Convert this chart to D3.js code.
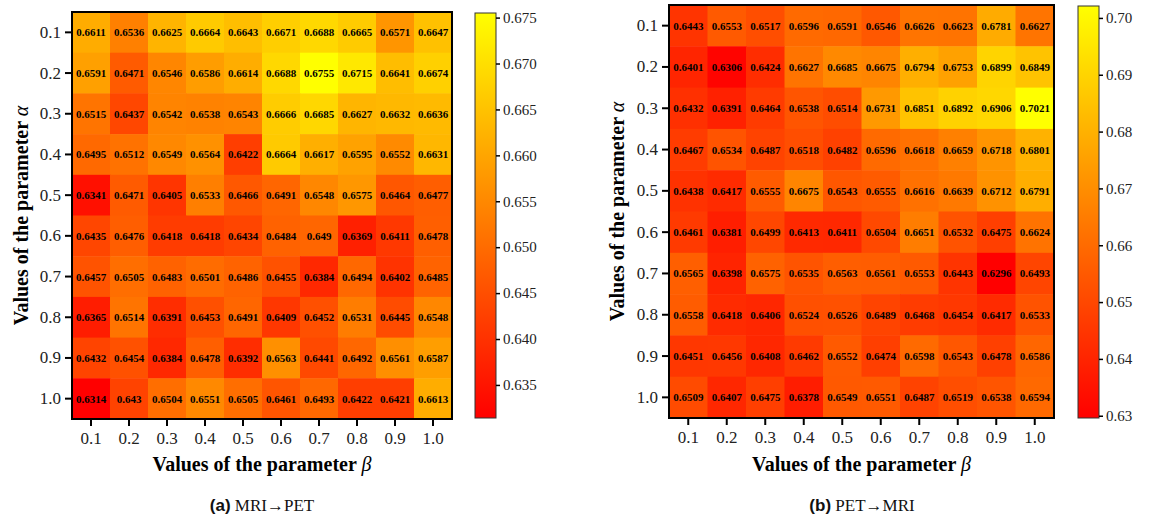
<!DOCTYPE html>
<html>
<head>
<meta charset="utf-8">
<script src="https://cdn.jsdelivr.net/npm/d3@7"></script>
<style>
  html, body { margin: 0; padding: 0; background: #fff; }
  svg { display: block; }
</style>
</head>
<body>
<svg id="chart" width="1152" height="520"></svg>
<script>
const alphas = ["0.1", "0.2", "0.3", "0.4", "0.5", "0.6", "0.7", "0.8", "0.9", "1.0"];
const betas = ["0.1", "0.2", "0.3", "0.4", "0.5", "0.6", "0.7", "0.8", "0.9", "1.0"];

// rows = alpha 0.1 .. 1.0, columns = beta 0.1 .. 1.0
const mriToPet = [
  [0.6611, 0.6536, 0.6625, 0.6664, 0.6643, 0.6671, 0.6688, 0.6665, 0.6571, 0.6647],
  [0.6591, 0.6471, 0.6546, 0.6586, 0.6614, 0.6688, 0.6755, 0.6715, 0.6641, 0.6674],
  [0.6515, 0.6437, 0.6542, 0.6538, 0.6543, 0.6666, 0.6685, 0.6627, 0.6632, 0.6636],
  [0.6495, 0.6512, 0.6549, 0.6564, 0.6422, 0.6664, 0.6617, 0.6595, 0.6552, 0.6631],
  [0.6341, 0.6471, 0.6405, 0.6533, 0.6466, 0.6491, 0.6548, 0.6575, 0.6464, 0.6477],
  [0.6435, 0.6476, 0.6418, 0.6418, 0.6434, 0.6484, 0.649, 0.6369, 0.6411, 0.6478],
  [0.6457, 0.6505, 0.6483, 0.6501, 0.6486, 0.6455, 0.6384, 0.6494, 0.6402, 0.6485],
  [0.6365, 0.6514, 0.6391, 0.6453, 0.6491, 0.6409, 0.6452, 0.6531, 0.6445, 0.6548],
  [0.6432, 0.6454, 0.6384, 0.6478, 0.6392, 0.6563, 0.6441, 0.6492, 0.6561, 0.6587],
  [0.6314, 0.643, 0.6504, 0.6551, 0.6505, 0.6461, 0.6493, 0.6422, 0.6421, 0.6613]
];

const petToMri = [
  [0.6443, 0.6553, 0.6517, 0.6596, 0.6591, 0.6546, 0.6626, 0.6623, 0.6781, 0.6627],
  [0.6401, 0.6306, 0.6424, 0.6627, 0.6685, 0.6675, 0.6794, 0.6753, 0.6899, 0.6849],
  [0.6432, 0.6391, 0.6464, 0.6538, 0.6514, 0.6731, 0.6851, 0.6892, 0.6906, 0.7021],
  [0.6467, 0.6534, 0.6487, 0.6518, 0.6482, 0.6596, 0.6618, 0.6659, 0.6718, 0.6801],
  [0.6438, 0.6417, 0.6555, 0.6675, 0.6543, 0.6555, 0.6616, 0.6639, 0.6712, 0.6791],
  [0.6461, 0.6381, 0.6499, 0.6413, 0.6411, 0.6504, 0.6651, 0.6532, 0.6475, 0.6624],
  [0.6565, 0.6398, 0.6575, 0.6535, 0.6563, 0.6561, 0.6553, 0.6443, 0.6296, 0.6493],
  [0.6558, 0.6418, 0.6406, 0.6524, 0.6526, 0.6489, 0.6468, 0.6454, 0.6417, 0.6533],
  [0.6451, 0.6456, 0.6408, 0.6462, 0.6552, 0.6474, 0.6598, 0.6543, 0.6478, 0.6586],
  [0.6509, 0.6407, 0.6475, 0.6378, 0.6549, 0.6551, 0.6487, 0.6519, 0.6538, 0.6594]
];

const mriToPetTicks = [0.635, 0.64, 0.645, 0.65, 0.655, 0.66, 0.665, 0.67, 0.675];
const petToMriTicks = [0.63, 0.64, 0.65, 0.66, 0.67, 0.68, 0.69, 0.70];

const serif = "'Liberation Serif', 'Times New Roman', serif";
const sans = "'Liberation Sans', Arial, sans-serif";

const svg = d3.select("#chart");

// colorbar gradient (matplotlib "autumn": red -> yellow)
const defs = svg.append("defs");
const grad = defs.append("linearGradient")
  .attr("id", "autumn")
  .attr("x1", 0).attr("y1", 1).attr("x2", 0).attr("y2", 0);
grad.append("stop").attr("offset", "0%").attr("stop-color", "rgb(255,0,0)");
grad.append("stop").attr("offset", "100%").attr("stop-color", "rgb(255,255,0)");

function styleAxis(ax, size) {
  ax.attr("font-family", serif).attr("font-size", size);
  ax.select(".domain").remove();
  ax.selectAll(".tick text")
    .style("font-family", serif)
    .style("font-size", size + "px")
    .attr("fill", "#222");
}

function drawPanel(data, ticks, tickFmt, cfg) {
  const values = data.flat();
  const extent = d3.extent(values);
  const color = d3.scaleSequential(d3.interpolateRgb("rgb(255,0,0)", "rgb(255,255,0)"))
    .domain(extent);

  const x = d3.scaleBand().domain(betas).range([cfg.x0, cfg.x1]);
  const y = d3.scaleBand().domain(alphas).range([cfg.y0, cfg.y1]);

  const g = svg.append("g");

  const cells = [];
  data.forEach((row, i) => row.forEach((v, j) => cells.push({ a: alphas[i], b: betas[j], v })));

  g.selectAll("rect.cell")
    .data(cells)
    .enter()
    .append("rect")
    .attr("class", "cell")
    .attr("x", (d) => x(d.b))
    .attr("y", (d) => y(d.a))
    .attr("width", x.bandwidth() + 0.5)
    .attr("height", y.bandwidth() + 0.5)
    .attr("fill", (d) => color(d.v));

  g.selectAll("text.val")
    .data(cells)
    .enter()
    .append("text")
    .attr("class", "val")
    .attr("x", (d) => x(d.b) + x.bandwidth() / 2)
    .attr("y", (d) => y(d.a) + y.bandwidth() / 2)
    .attr("text-anchor", "middle")
    .attr("dominant-baseline", "central")
    .style("font-family", serif)
    .style("font-weight", "bold")
    .style("font-size", "11px")
    .style("fill", "#000")
    .text((d) => String(d.v));

  // frame
  g.append("rect")
    .attr("x", cfg.x0)
    .attr("y", cfg.y0)
    .attr("width", cfg.x1 - cfg.x0)
    .attr("height", cfg.y1 - cfg.y0)
    .attr("fill", "none")
    .attr("stroke", "#000")
    .attr("stroke-width", 2);

  // axes
  const xAxis = g.append("g")
    .attr("transform", `translate(0,${cfg.y1 + 1})`)
    .call(d3.axisBottom(x).tickSize(6).tickSizeOuter(0));
  const yAxis = g.append("g")
    .attr("transform", `translate(${cfg.x0 - 1},0)`)
    .call(d3.axisLeft(y).tickSize(6).tickSizeOuter(0));

  [xAxis, yAxis].forEach((ax) => {
    styleAxis(ax, 17);
    ax.selectAll(".tick line").attr("stroke", "#000").attr("stroke-width", 2);
  });
  xAxis.selectAll(".tick text").attr("dy", "0.9em");
  yAxis.selectAll(".tick text").attr("x", -10);

  // axis titles
  const xt = g.append("text")
    .attr("x", (cfg.x0 + cfg.x1) / 2)
    .attr("y", 471)
    .attr("text-anchor", "middle")
    .style("font-family", serif)
    .style("font-weight", "bold")
    .style("font-size", "20px");
  xt.append("tspan").text("Values of the parameter ");
  xt.append("tspan").style("font-style", "italic").style("font-weight", "normal").text("β");

  const yt = g.append("text")
    .attr("transform", `translate(${cfg.ylabelX},${(cfg.y0 + cfg.y1) / 2}) rotate(-90)`)
    .attr("text-anchor", "middle")
    .attr("dominant-baseline", "central")
    .style("font-family", serif)
    .style("font-weight", "bold")
    .style("font-size", "20px");
  yt.append("tspan").text("Values of the parameter ");
  yt.append("tspan").style("font-style", "italic").style("font-weight", "normal").text("α");

  // colorbar
  const cb = cfg.cb;
  const cy = d3.scaleLinear().domain(extent).range([cb.y1, cb.y0]);
  g.append("rect")
    .attr("x", cb.x0)
    .attr("y", cb.y0)
    .attr("width", cb.x1 - cb.x0)
    .attr("height", cb.y1 - cb.y0)
    .attr("fill", "url(#autumn)")
    .attr("stroke", "#333")
    .attr("stroke-width", 1);

  const cAxis = g.append("g")
    .attr("transform", `translate(${cb.x1},0)`)
    .call(d3.axisRight(cy).tickValues(ticks).tickFormat(d3.format(tickFmt)).tickSize(4).tickSizeOuter(0));
  styleAxis(cAxis, 15);
  cAxis.selectAll(".tick line").attr("stroke", "#000").attr("stroke-width", 1.5);
  cAxis.selectAll(".tick text").attr("x", 7);

  // caption
  const cap = g.append("text")
    .attr("x", cfg.capX)
    .attr("y", 511)
    .attr("text-anchor", "middle")
    .style("font-size", "17px")
    .attr("fill", "#111");
  cap.append("tspan").style("font-family", sans).style("font-weight", "bold").text("(" + cfg.tag + ")");
  cap.append("tspan").style("font-family", serif).text(" " + cfg.source + "\u2192" + cfg.target);
}

drawPanel(mriToPet, mriToPetTicks, ".3f", {
  x0: 72, x1: 452, y0: 12, y1: 419,
  ylabelX: 21,
  cb: { x0: 475, x1: 496, y0: 13, y1: 418 },
  capX: 262, tag: "a", source: "MRI", target: "PET"
});

drawPanel(petToMri, petToMriTicks, ".2f", {
  x0: 669, x1: 1054, y0: 5, y1: 418,
  ylabelX: 617,
  cb: { x0: 1078, x1: 1099, y0: 6, y1: 418 },
  capX: 862, tag: "b", source: "PET", target: "MRI"
});
</script>
</body>
</html>
